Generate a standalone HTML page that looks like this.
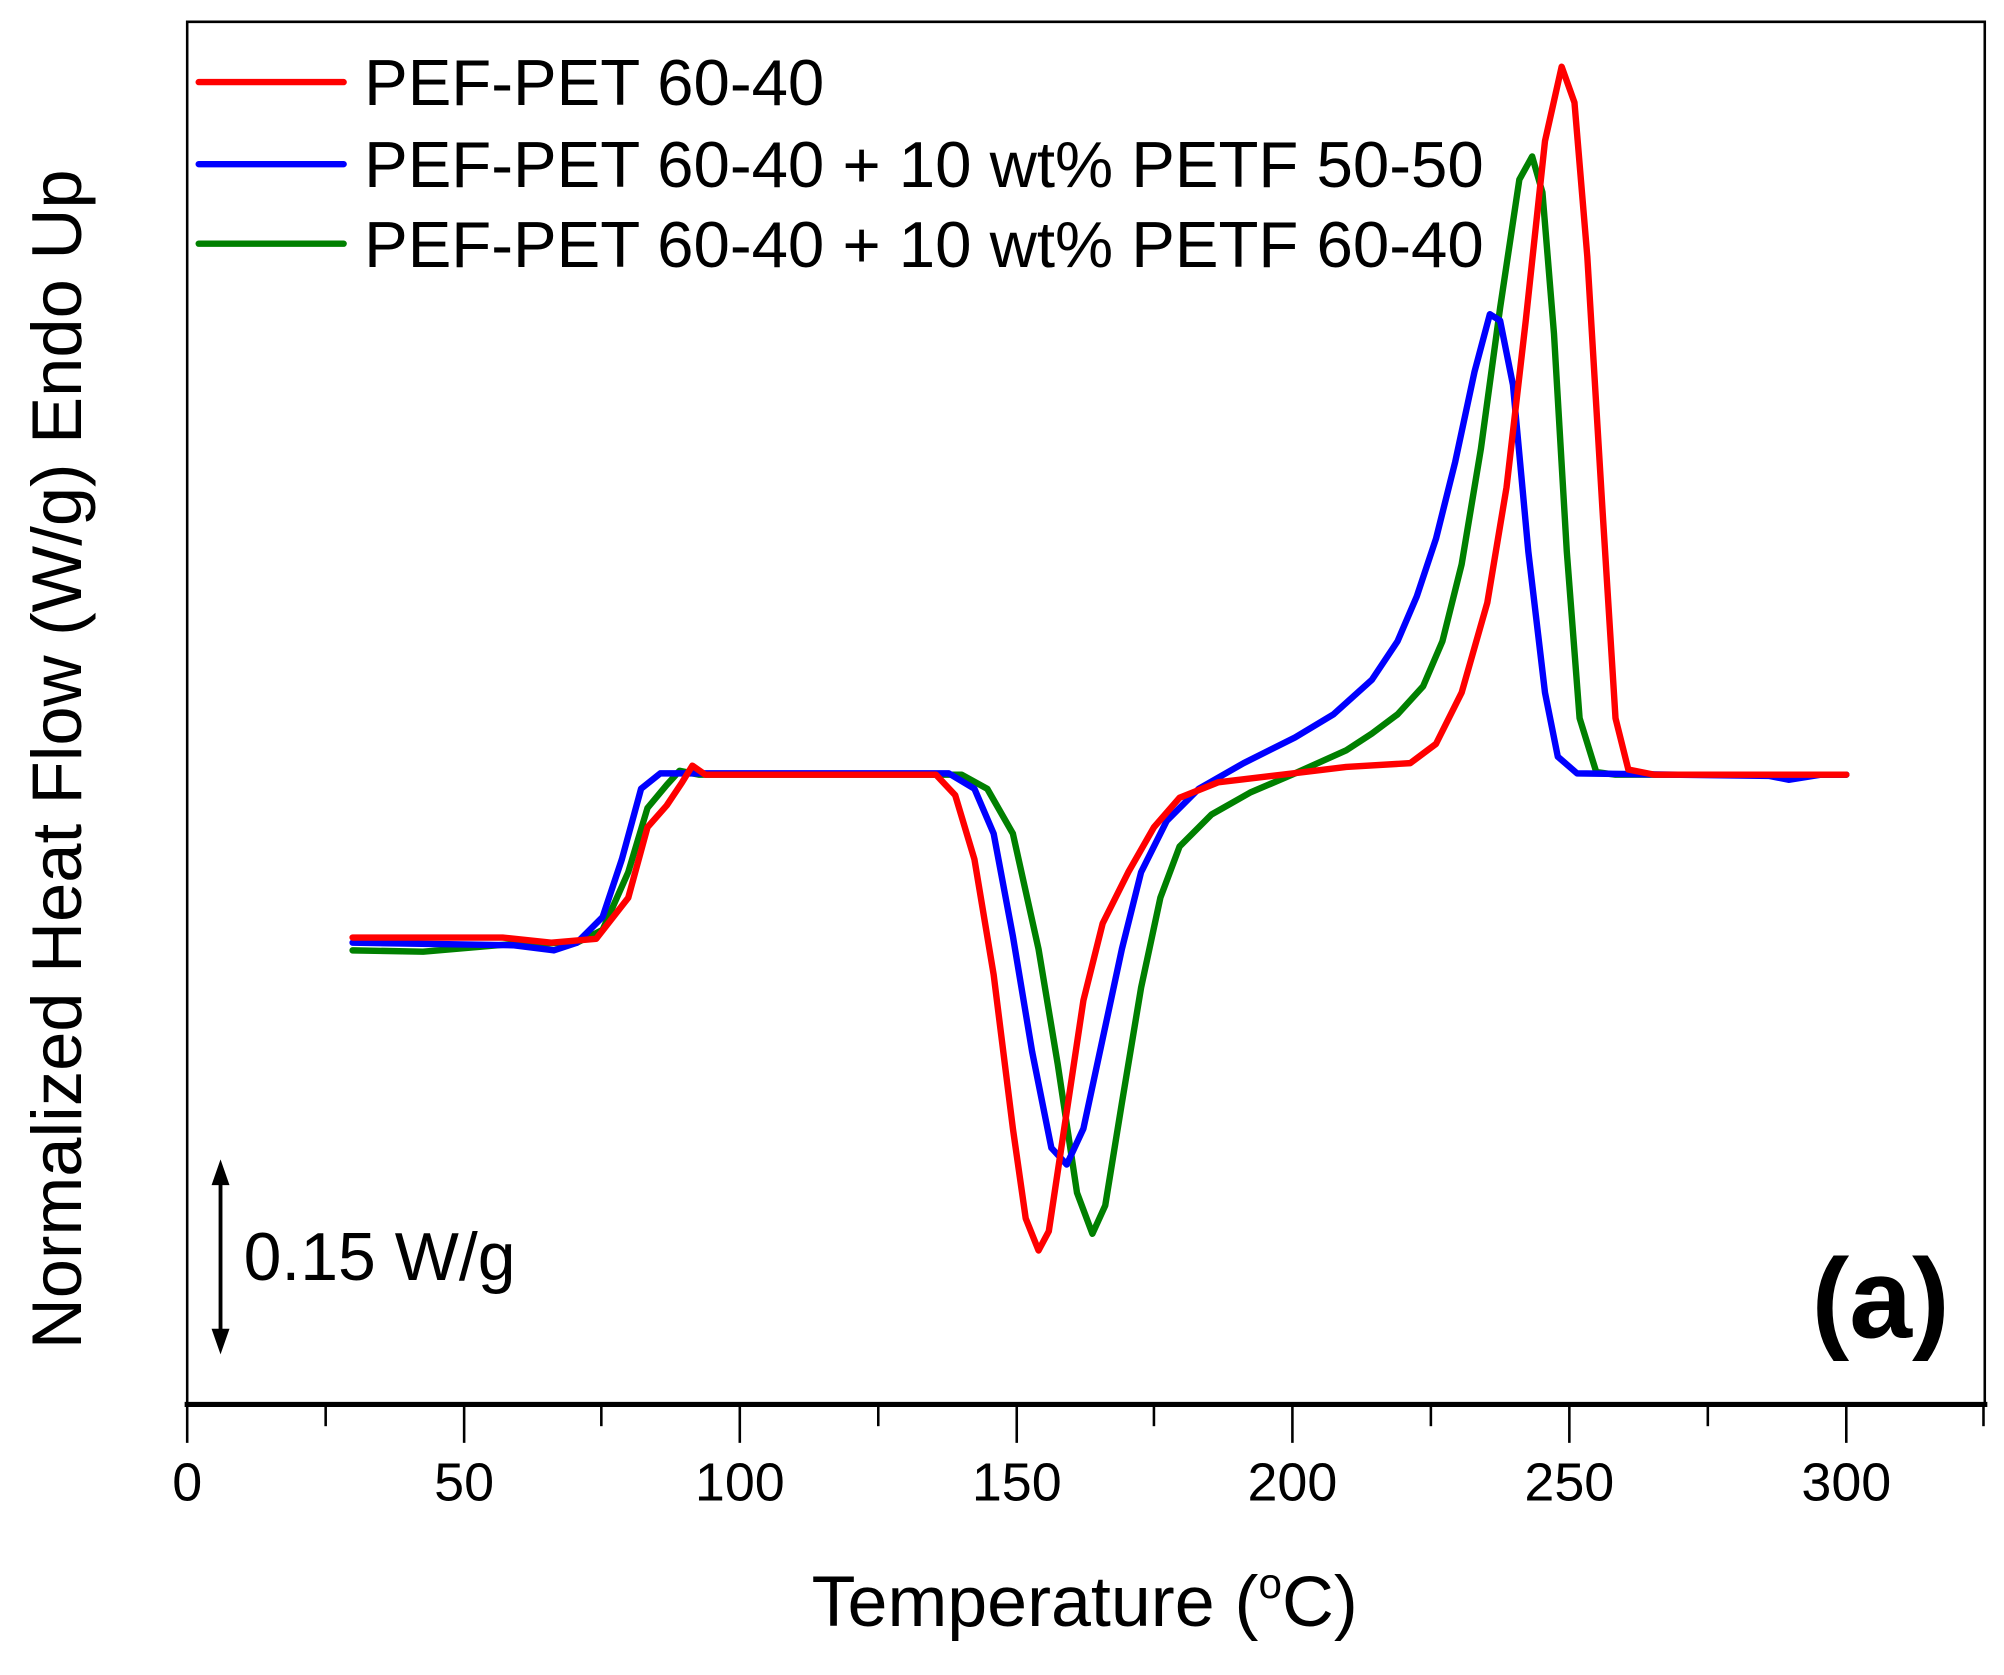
<!DOCTYPE html>
<html><head><meta charset="utf-8"><style>html,body{margin:0;padding:0;background:#fff}svg{display:block}</style></head>
<body>
<svg width="2004" height="1675" viewBox="0 0 1563 1306" preserveAspectRatio="none" xmlns="http://www.w3.org/2000/svg" font-family="Liberation Sans, Arial, sans-serif">
<rect x="0" y="0" width="1563" height="1306" fill="#fff"/>
<polyline points="146,1095 146,17 1548,17 1548,1095" fill="none" stroke="#000" stroke-width="2"/>
<line x1="144" y1="1095" x2="1550" y2="1095" stroke="#000" stroke-width="4"/>
<g stroke="#000" stroke-width="2">
<line x1="146" y1="1095" x2="146" y2="1125"/><line x1="254" y1="1095" x2="254" y2="1112"/>
<line x1="362" y1="1095" x2="362" y2="1125"/><line x1="469" y1="1095" x2="469" y2="1112"/>
<line x1="577" y1="1095" x2="577" y2="1125"/><line x1="685" y1="1095" x2="685" y2="1112"/>
<line x1="793" y1="1095" x2="793" y2="1125"/><line x1="900" y1="1095" x2="900" y2="1112"/>
<line x1="1008" y1="1095" x2="1008" y2="1125"/><line x1="1116" y1="1095" x2="1116" y2="1112"/>
<line x1="1224" y1="1095" x2="1224" y2="1125"/><line x1="1332" y1="1095" x2="1332" y2="1112"/>
<line x1="1440" y1="1095" x2="1440" y2="1125"/><line x1="1547" y1="1095" x2="1547" y2="1112"/>
</g>
<g font-size="42" text-anchor="middle" fill="#000">
<text x="146" y="1170">0</text><text x="362" y="1170">50</text><text x="577" y="1170">100</text>
<text x="793" y="1170">150</text><text x="1008" y="1170">200</text><text x="1224" y="1170">250</text><text x="1440" y="1170">300</text>
</g>
<text x="846" y="1268" font-size="56" text-anchor="middle">Temperature (<tspan font-size="33" dy="-22">o</tspan><tspan dy="22">C)</tspan></text>
<text transform="translate(63,592) rotate(-90)" font-size="55" text-anchor="middle">Normalized Heat Flow (W/g) Endo Up</text>
<g stroke-width="5" stroke-linecap="round">
<line x1="155" y1="64" x2="268" y2="64" stroke="#ff0000"/>
<line x1="155" y1="128" x2="268" y2="128" stroke="#0000ff"/>
<line x1="155" y1="190" x2="268" y2="190" stroke="#008000"/>
</g>
<g font-size="51" fill="#000">
<text x="284" y="82">PEF-PET 60-40</text>
<text x="284" y="146">PEF-PET 60-40 + 10 wt% PETF 50-50</text>
<text x="284" y="208">PEF-PET 60-40 + 10 wt% PETF 60-40</text>
</g>
<line x1="172" y1="920" x2="172" y2="1040" stroke="#000" stroke-width="3"/>
<polygon points="172,904 165,924 179,924" fill="#000"/>
<polygon points="172,1056 165,1036 179,1036" fill="#000"/>
<text x="190" y="998" font-size="53">0.15 W/g</text>
<text x="1413" y="1043" font-size="88" font-weight="bold">(a)</text>
<g fill="none" stroke-width="5" stroke-linejoin="round" stroke-linecap="round">
<polyline stroke="#008000" points="275,741 330,742 400,736 450,735 470,725 490,680 505,630 520,612 530,601 545,604 750,604 770,615 790,650 810,740 825,830 840,930 852,962 862,940 875,860 890,770 905,700 920,660 945,635 975,618 1010,603 1050,585 1070,572 1090,557 1110,535 1125,500 1140,440 1155,350 1170,240 1185,140 1195,122 1203,150 1212,260 1222,430 1232,560 1245,602 1260,604 1440,604"/>
<polyline stroke="#0000ff" points="275,735 400,737 432,741 450,735 470,715 485,670 500,615 515,603 740,603 760,615 775,650 790,730 805,820 820,895 832,908 845,880 860,810 875,740 890,680 910,640 935,615 970,595 1010,575 1040,557 1070,530 1090,500 1105,465 1120,420 1135,360 1150,290 1162,245 1170,250 1180,300 1192,430 1205,540 1215,590 1230,603 1380,605 1395,608 1420,604 1440,604"/>
<polyline stroke="#ff0000" points="275,731 392,731 430,735 465,732 490,700 505,645 520,628 532,610 540,597 550,604 730,604 745,620 760,670 775,760 790,880 800,950 810,975 818,960 830,880 845,780 860,720 880,680 900,645 920,622 950,610 1000,604 1050,598 1100,595 1120,580 1140,540 1160,470 1175,380 1190,250 1205,110 1218,52 1228,80 1238,200 1250,400 1260,560 1270,600 1290,604 1440,604"/>
</g>
</svg>
</body></html>
